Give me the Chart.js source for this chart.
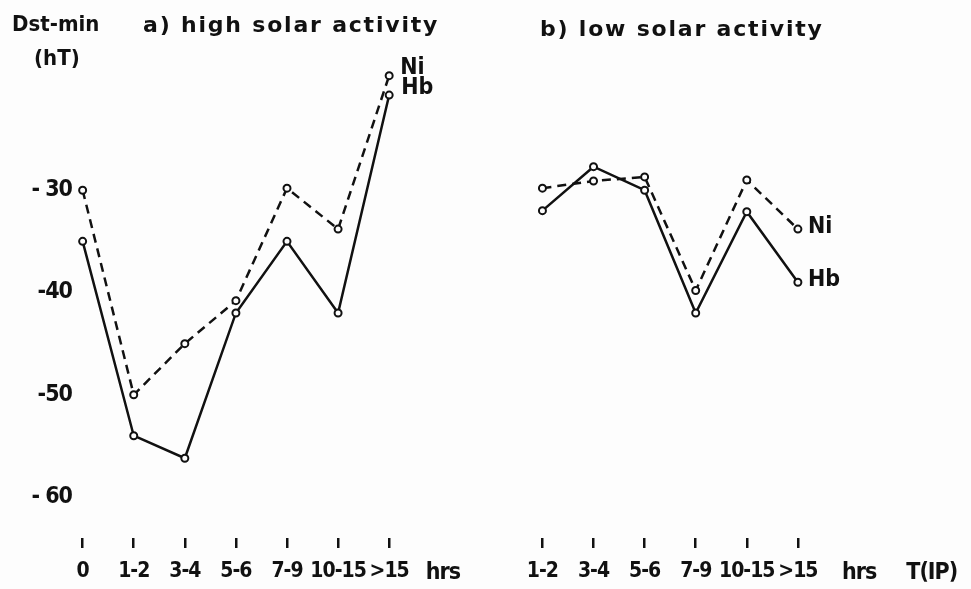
<!DOCTYPE html>
<html>
<head>
<meta charset="utf-8">
<script src="https://cdn.jsdelivr.net/npm/chart.js@4/dist/chart.umd.min.js"></script>
<style>
  html, body { margin: 0; padding: 0; background: #fdfdfd; }
  #wrap { position: relative; width: 971px; height: 589px; overflow: hidden; }
  #chart { position: absolute; left: 0; top: 0; }
  .txt {
    position: absolute;
    font-family: 'DejaVu Sans Condensed', 'DejaVu Sans', sans-serif;
    font-weight: bold;
    font-size: 22px;
    line-height: 22px;
    color: #111;
    white-space: pre;
  }
  .title { letter-spacing: 1.8px; font-family: 'DejaVu Sans', sans-serif; }
</style>
</head>
<body>
<div id="wrap">
  <canvas id="chart" width="971" height="589"></canvas>
  <div class="txt" style="left:12px; top:13px;">Dst-min</div>
  <div class="txt" style="left:34px; top:47px;">(hT)</div>
  <div class="txt title" style="left:143px; top:14px;">a) high solar activity</div>
  <div class="txt title" style="left:540px; top:18px;">b) low solar activity</div>
</div>
<script>
// categories (storm duration classes)
const hoursHigh = ['0', '1-2', '3-4', '5-6', '7-9', '10-15', '>15'];
const hoursLow = ['1-2', '3-4', '5-6', '7-9', '10-15', '>15'];

// Dst-min (nT)
const niHigh = [-30, -50, -45, -40.8, -29.8, -33.8, -18.8];
const hbHigh = [-35, -54, -56.2, -42, -35, -42, -20.7];
const niLow = [-29.8, -29.1, -28.7, -39.8, -29.0, -33.8];
const hbLow = [-32.0, -27.7, -30.0, -42.0, -32.1, -39.0];

// y tick values and their printed labels
const yTicks = [-30, -40, -50, -60];
const yTickLabels = ['- 30', '-40', '-50', '- 60'];

// layout: panel b starts 9 slots right of panel a on one shared x scale
const lowOffset = 9;
const unitTicks = [
  { value: 7.05, label: 'hrs' },
  { value: 15.2, label: 'hrs' },
  { value: 16.62, label: 'T(IP)' }
];

const FONT = "'DejaVu Sans Condensed', 'DejaVu Sans', sans-serif";
const INK = '#111';

const tickLabels = new Map();
hoursHigh.forEach((h, i) => tickLabels.set(i, h));
hoursLow.forEach((h, i) => tickLabels.set(i + lowOffset, h));
unitTicks.forEach(t => tickLabels.set(t.value, t.label));
const unitValues = unitTicks.map(t => t.value);
const isUnit = (c) => c.tick && unitValues.includes(c.tick.value);

const toPoints = (vals, offset) => vals.map((v, i) => ({ x: i + offset, y: v }));

const lineStyle = {
  borderColor: INK,
  borderWidth: 2.5,
  pointRadius: 3.5,
  pointBorderWidth: 2,
  pointBorderColor: INK,
  pointBackgroundColor: '#fdfdfd',
  tension: 0,
  fill: false
};
const dashed = [9, 6];

// tighter lettering for the crowded duration labels
const tightText = {
  id: 'tightText',
  beforeDraw(chart) { chart.ctx.letterSpacing = '-1px'; },
  afterDraw(chart) { chart.ctx.letterSpacing = '0px'; }
};

// draws "Ni" / "Hb" beside the last point of a series
const endLabels = {
  id: 'endLabels',
  afterDatasetsDraw(chart) {
    const ctx = chart.ctx;
    chart.data.datasets.forEach((ds, i) => {
      if (!ds.endLabel) return;
      const pts = chart.getDatasetMeta(i).data;
      const p = pts[pts.length - 1];
      ctx.save();
      ctx.letterSpacing = '0px';
      ctx.font = 'bold 23px ' + FONT;
      ctx.fillStyle = INK;
      ctx.textBaseline = 'middle';
      ctx.textAlign = 'left';
      ctx.fillText(ds.endLabel, p.x + ds.labelDx, p.y + ds.labelDy);
      ctx.restore();
    });
  }
};

new Chart(document.getElementById('chart').getContext('2d'), {
  type: 'line',
  data: {
    datasets: [
      { ...lineStyle, data: toPoints(niHigh, 0), borderDash: dashed, endLabel: 'Ni', labelDx: 11, labelDy: -8 },
      { ...lineStyle, data: toPoints(hbHigh, 0), endLabel: 'Hb', labelDx: 12, labelDy: -7 },
      { ...lineStyle, data: toPoints(niLow, lowOffset), borderDash: dashed, endLabel: 'Ni', labelDx: 10, labelDy: -2 },
      { ...lineStyle, data: toPoints(hbLow, lowOffset), endLabel: 'Hb', labelDx: 10, labelDy: -2 }
    ]
  },
  options: {
    responsive: false,
    animation: false,
    layout: { padding: { top: 47, right: 11, left: 0, bottom: 0 } },
    plugins: { legend: { display: false }, tooltip: { enabled: false } },
    scales: {
      x: {
        type: 'linear',
        min: -0.13,
        max: 17.13,
        border: { display: false },
        afterBuildTicks: (scale) => {
          const vals = [...hoursHigh.map((_, i) => i), ...hoursLow.map((_, i) => i + lowOffset), ...unitValues];
          scale.ticks = vals.map(v => ({ value: v }));
        },
        afterFit: (scale) => { scale.height = 51; },
        grid: {
          drawOnChartArea: false,
          drawTicks: true,
          tickLength: 10,
          lineWidth: 2.5,
          tickColor: (c) => isUnit(c) ? 'rgba(0,0,0,0)' : INK
        },
        ticks: {
          autoSkip: false,
          maxRotation: 0,
          padding: 11,
          color: INK,
          font: (c) => ({ family: FONT, size: isUnit(c) ? 23 : 21, weight: 'bold' }),
          callback: (v) => tickLabels.has(v) ? tickLabels.get(v) : ''
        }
      },
      y: {
        min: -64,
        max: -16,
        border: { display: false },
        grid: { display: false, drawTicks: false },
        afterBuildTicks: (scale) => { scale.ticks = yTicks.map(v => ({ value: v })); },
        afterFit: (scale) => { scale.width = 76; },
        ticks: {
          padding: 4,
          color: INK,
          font: { family: FONT, size: 23, weight: 'bold' },
          callback: (v) => yTickLabels[yTicks.indexOf(v)]
        }
      }
    }
  },
  plugins: [tightText, endLabels]
});
</script>
</body>
</html>
